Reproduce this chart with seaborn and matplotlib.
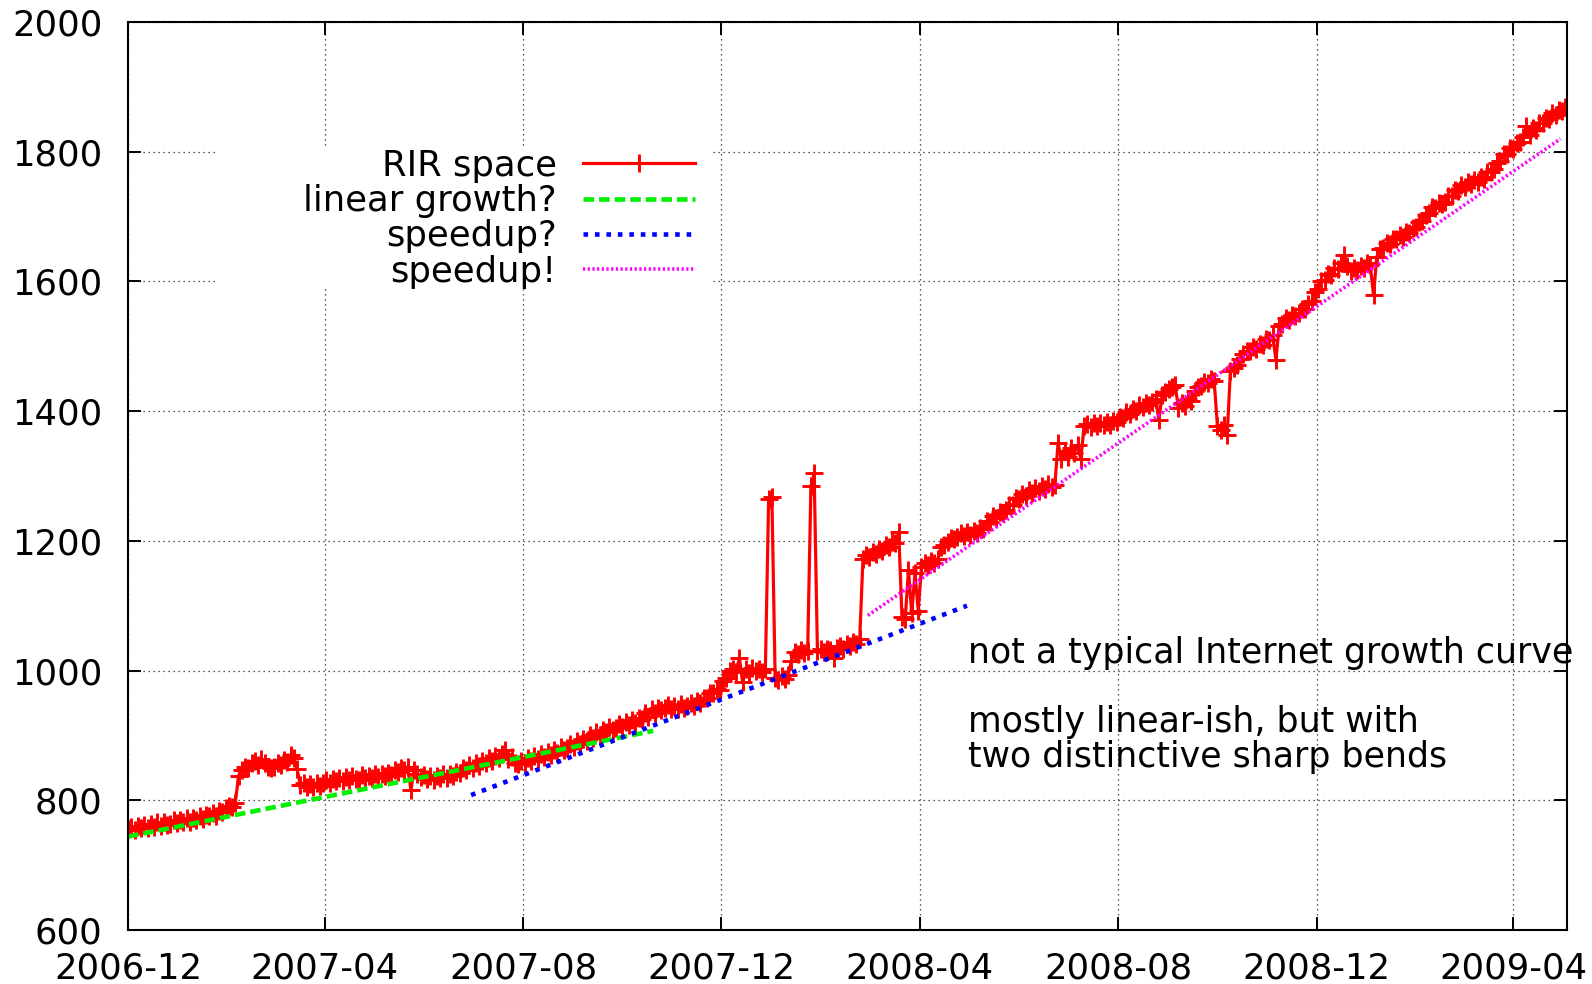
import pandas as pd
import matplotlib
matplotlib.use("Agg")
import matplotlib.pyplot as plt
import matplotlib.dates as mdates
from matplotlib.patches import Rectangle
import seaborn as sns

# RIR space, one reading every 2 days starting 2006-12-01
rir_start = "2006-12-01"
rir_values = [
    755, 759, 754, 761, 757, 762, 758, 764, 759, 766, 760, 767, 762, 763, 769,
    765, 770, 766, 772, 767, 773, 769, 776, 771, 778, 775, 781, 776, 784, 782,
    788, 791, 789, 796, 838, 846, 852, 849, 857, 861, 855, 863, 858, 852, 850,
    851, 858, 855, 862, 859, 870, 865, 848, 824, 827, 820, 825, 821, 827, 822,
    826, 831, 827, 833, 829, 835, 830, 836, 832, 838, 833, 831, 839, 834, 838,
    835, 840, 836, 841, 837, 842, 839, 846, 843, 849, 846, 852, 816, 847, 840,
    836, 839, 833, 837, 832, 838, 834, 840, 835, 841, 837, 843, 842, 849, 847,
    854, 850, 857, 853, 860, 857, 865, 861, 868, 865, 872, 877, 864, 866, 858,
    856, 861, 858, 865, 861, 868, 863, 871, 866, 874, 870, 878, 873, 882, 878,
    880, 886, 882, 891, 887, 895, 891, 900, 896, 906, 901, 909, 905, 913, 909,
    911, 917, 913, 920, 916, 924, 919, 927, 925, 934, 929, 940, 935, 943, 939,
    942, 947, 941, 946, 940, 948, 943, 945, 950, 946, 953, 950, 958, 957, 965,
    966, 972, 970, 984, 988, 999, 1003, 998, 1019, 982, 1002, 997, 1004, 999, 1002,
    998, 1003, 1265, 1268, 989, 986, 991, 987, 993, 1015, 1028, 1025, 1031, 1027, 1030,
    1284, 1304, 1030, 1033, 1029, 1034, 1031, 1019, 1035, 1038, 1034, 1041, 1038, 1044, 1041,
    1048, 1172, 1178, 1175, 1183, 1180, 1188, 1185, 1193, 1190, 1199, 1196, 1214, 1082, 1080,
    1155, 1088, 1150, 1092, 1160, 1166, 1163, 1169, 1166, 1172, 1190, 1194, 1199, 1205, 1203,
    1206, 1212, 1207, 1214, 1209, 1215, 1212, 1220, 1219, 1230, 1229, 1238, 1236, 1245, 1243,
    1247, 1256, 1255, 1266, 1264, 1273, 1269, 1278, 1274, 1282, 1277, 1285, 1280, 1287, 1283,
    1286, 1351, 1326, 1338, 1330, 1343, 1336, 1348, 1326, 1377, 1380, 1375, 1381, 1377, 1382,
    1378, 1383, 1379, 1385, 1384, 1391, 1390, 1398, 1396, 1404, 1401, 1409, 1406, 1413, 1410,
    1414, 1419, 1386, 1425, 1430, 1434, 1438, 1440, 1405, 1413, 1408, 1419, 1415, 1431, 1437,
    1439, 1445, 1443, 1449, 1447, 1377, 1371, 1379, 1363, 1462, 1467, 1471, 1480, 1488, 1492,
    1492, 1499, 1496, 1504, 1502, 1511, 1509, 1517, 1479, 1532, 1534, 1543, 1540, 1549, 1547,
    1551, 1558, 1557, 1566, 1570, 1584, 1588, 1600, 1602, 1611, 1610, 1620, 1619, 1629, 1641,
    1624, 1616, 1621, 1617, 1624, 1620, 1628, 1625, 1579, 1638, 1650, 1652, 1659, 1657, 1666,
    1665, 1672, 1669, 1677, 1674, 1683, 1684, 1692, 1693, 1703, 1705, 1715, 1713, 1721, 1719,
    1723, 1731, 1732, 1741, 1740, 1748, 1745, 1753, 1750, 1757, 1754, 1761, 1758, 1768, 1769,
    1774, 1782, 1786, 1797, 1797, 1806, 1805, 1814, 1815, 1823, 1839, 1826, 1836, 1833, 1845,
    1844, 1852, 1851, 1859, 1857, 1865, 1863, 1869,
]
rir_dates = pd.date_range(rir_start, periods=len(rir_values), freq="2D")

# hand-drawn trend lines (end points)
linear_dates = ["2006-12-01", "2007-10-20"]
linear_values = [744, 907]
speedup_q_dates = ["2007-06-30", "2008-04-30"]
speedup_q_values = [808, 1100]
speedup_dates = ["2008-02-29", "2009-04-30"]
speedup_values = [1085, 1820]

y_ticks = [600, 800, 1000, 1200, 1400, 1600, 1800, 2000]
x_range = ["2006-12-01", "2009-05-04"]

notes = [
    "not a typical Internet growth curve",
    "mostly linear-ish, but with",
    "two distinctive sharp bends",
]
notes_y = [0.294, 0.218, 0.1795]

FS = 25.5

fig = plt.figure(figsize=(15.92, 9.84), dpi=100)
ax = fig.add_axes([0.0804, 0.0549, 0.9039, 0.9227])

sns.lineplot(x=rir_dates, y=rir_values, ax=ax, color="#ff0000", lw=2.3,
             marker="+", markersize=13, mew=2.1, mec="#ff0000", label="RIR space")
sns.lineplot(x=pd.to_datetime(linear_dates), y=linear_values, ax=ax, color="#00f000",
             lw=3.3, linestyle=(0, (2.3, 1.1)), label="linear growth?")
sns.lineplot(x=pd.to_datetime(speedup_q_dates), y=speedup_q_values, ax=ax, color="#0000ff",
             lw=3.3, linestyle=(0, (1, 1.5)), label="speedup?")
sns.lineplot(x=pd.to_datetime(speedup_dates), y=speedup_values, ax=ax, color="#ff00ff",
             lw=2.6, linestyle=(0, (0.6, 0.7)), label="speedup!")

ax.set_xlim(pd.Timestamp(x_range[0]), pd.Timestamp(x_range[1]))
ax.set_ylim(600, 2000)
ax.set_yticks(y_ticks)
ax.xaxis.set_major_locator(mdates.MonthLocator(bymonth=[4, 8, 12]))
ax.xaxis.set_major_formatter(mdates.DateFormatter("%Y-%m"))
ax.set_xlabel("")
ax.set_ylabel("")

ax.set_axisbelow(True)
ax.grid(True, color="#222222", linestyle=(0, (1, 3)), linewidth=0.9)
for sp in ax.spines.values():
    sp.set_linewidth(1.5)
    sp.set_color("black")
ax.tick_params(axis="both", labelsize=FS, direction="in", length=9.4, width=1.4,
               top=True, right=True, colors="black")
ax.tick_params(axis="y", pad=18.5)
ax.tick_params(axis="x", pad=15.5)

# white key box like gnuplot's
ax.add_patch(Rectangle((0.1357, 0.7093), 0.3103, 0.1402, transform=fig.transFigure,
                       facecolor="white", edgecolor="none", zorder=1))
handles, labels = ax.get_legend_handles_labels()
ax.legend(handles, labels, loc="upper right", bbox_to_anchor=(695 / 1592, 0.8490),
          bbox_transform=fig.transFigure, frameon=False, markerfirst=False,
          fontsize=FS, handlelength=3.15, handletextpad=0.76, labelspacing=0.04,
          borderpad=0, borderaxespad=0)

for txt, yy in zip(notes, notes_y):
    ax.text(0.5837, yy, txt, transform=ax.transAxes, fontsize=25, va="baseline",
            ha="left", color="black", clip_on=False)

fig.savefig("out.png", dpi=100)
